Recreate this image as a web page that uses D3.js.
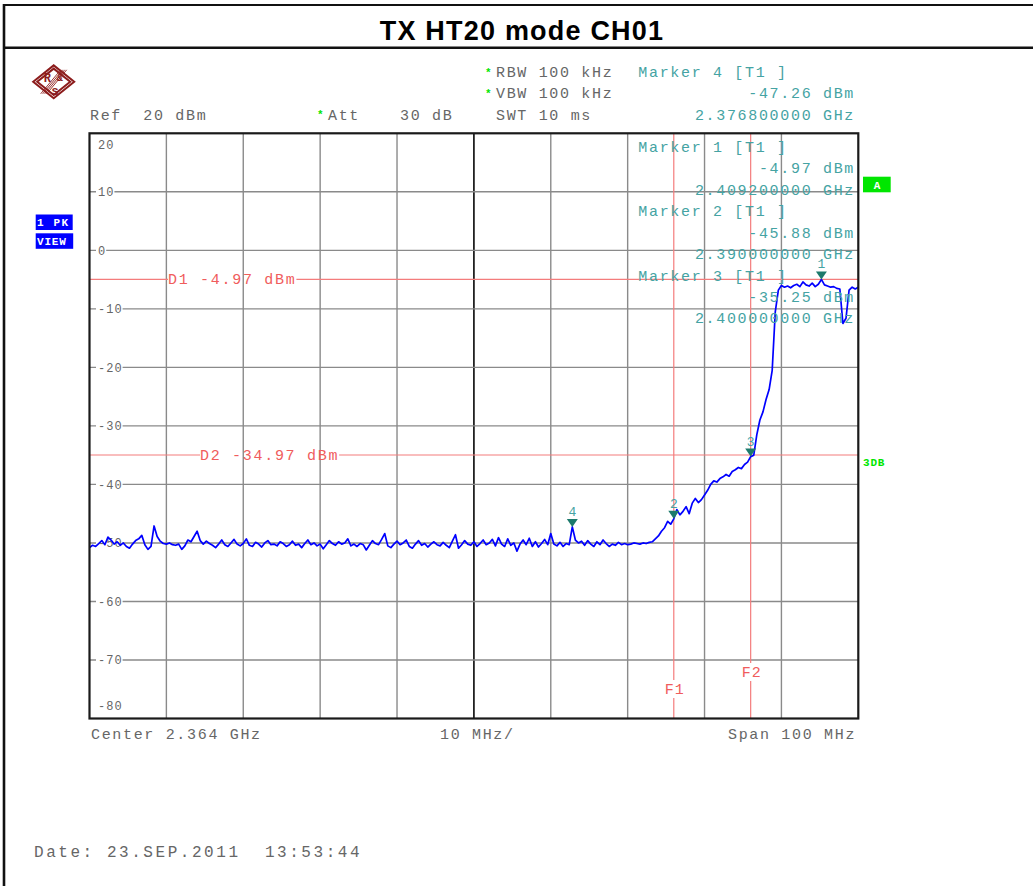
<!DOCTYPE html>
<html>
<head>
<meta charset="utf-8">
<script src="https://cdn.jsdelivr.net/npm/d3@7"></script>
<style>
  body { margin: 0; background: #fff; }
  svg text { font-family: "Liberation Mono", "DejaVu Sans Mono", monospace; white-space: pre; }
</style>
</head>
<body>
<svg id="chart" width="1033" height="886"></svg>
<script>
const TITLE = "TX HT20 mode CH01";

// sweep: 2314 MHz .. 2414 MHz, one point each 0.4 MHz
const sweepStartMHz = 2314;
const sweepStepMHz = 0.4;
const traceDbm = [
  -50.8, -50.4, -50.6, -50.1, -49.6, -50.3, -49.0, -49.5, -50.2, -49.8,
  -50.4, -50.0, -50.6, -50.9, -50.2, -49.6, -49.3, -48.7, -50.3, -51.1,
  -50.6, -47.1, -48.9, -49.7, -50.1, -50.2, -50.0, -50.3, -50.4, -50.2,
  -51.1, -50.5, -49.5, -49.8, -48.9, -48.0, -49.6, -50.2, -49.7, -50.1,
  -50.4, -50.8, -50.2, -49.5, -50.3, -50.6, -50.0, -49.4, -50.2, -50.5,
  -50.1, -49.3, -50.4, -50.6, -49.9, -50.2, -50.7, -50.0, -49.6, -50.3,
  -50.2, -50.5, -49.8, -50.1, -50.6, -50.3, -49.7, -50.4, -50.2, -50.8,
  -50.1, -49.5, -50.3, -50.0, -50.5, -50.2, -51.0, -50.3, -49.6, -50.1,
  -50.4, -49.8, -50.2, -50.0, -49.3, -50.5, -50.2, -50.6, -50.1, -50.3,
  -51.2, -50.4, -49.6, -50.1, -50.3, -49.4, -48.4, -50.5, -50.8, -50.2,
  -49.7, -50.3, -50.0, -49.5, -50.6, -50.9, -50.2, -49.6, -50.4, -50.1,
  -50.7, -50.2, -49.8, -50.3, -50.5, -49.9, -50.4, -50.8, -49.7, -48.6,
  -50.9, -50.3, -49.6, -50.2, -50.4, -49.8, -50.6, -50.1, -49.5, -50.3,
  -50.0, -49.4, -50.5, -49.1, -50.2, -50.6, -49.3, -50.4, -50.0, -51.4,
  -50.2, -49.5, -50.3, -49.2, -50.6, -49.8, -50.7, -50.1, -49.4, -50.3,
  -48.4, -50.2, -50.5, -49.9, -50.6, -50.1, -50.3, -47.26, -49.5, -50.0,
  -49.7, -50.4, -49.6, -50.2, -50.6, -49.8, -50.3, -49.5, -50.1, -50.6,
  -50.2, -50.4, -49.9, -50.3, -50.1, -50.3, -50.2, -50.0, -50.1, -50.2,
  -50.0, -50.1, -49.9, -49.8, -49.3, -48.8, -48.0, -47.4, -46.3, -46.8,
  -45.88, -44.3, -45.2, -44.6, -43.8, -45.0, -43.2, -42.4, -43.1, -42.6,
  -41.8, -41.0, -40.0, -39.4, -39.6, -39.0, -38.7, -38.3, -38.6, -37.8,
  -37.5, -37.1, -37.3, -36.6, -36.2, -35.25, -35.0, -31.5, -29.0, -27.6,
  -25.5, -23.8, -20.5, -10.5, -6.8, -6.0, -6.3, -6.1, -6.4, -6.0,
  -5.8, -6.2, -5.4, -5.9, -6.1, -5.6, -6.2, -5.8, -4.97, -5.9,
  -6.1, -6.3, -6.2, -6.5, -6.6, -12.5, -11.6, -6.8, -6.3, -6.6,
  -6.3
];

const freqDomainMHz = [2314, 2414];
const levelDomainDbm = [-80, 20];
const yTickValues = [20, 10, 0, -10, -20, -30, -40, -50, -60, -70, -80];
const xDivisionsMHz = [2324, 2334, 2344, 2354, 2364, 2374, 2384, 2394, 2404];

const markerIds = [1, 2, 3, 4];
const markerMHz = [2409.2, 2390, 2400, 2376.8];
const markerDbm = [-4.97, -45.88, -35.25, -47.26];

const displayLineNames = ["D1", "D2"];
const displayLineDbm = [-4.97, -34.97];
const freqLineNames = ["F1", "F2"];
const freqLineMHz = [2390, 2400];

const COLORS = {
    frame: '#111',
    grid: '#8a8a8a',
    gridCenter: '#222',
    gray: '#666',
    teal: '#45a3a3',
    markerFill: '#1d7a6c',
    red: '#f05c5c',
    redLine: '#f47c7c',
    trace: '#0000ff',
    green: '#00e600',
    blue: '#0000ff',
    logo: '#8c1c1c'
};

const svg = d3.select('#chart');
svg.append('rect').attr('width', 1033).attr('height', 886).attr('fill', '#fff');

// page frame + title
svg.append('line').attr('x1', 3).attr('x2', 1033).attr('y1', 5).attr('y2', 5)
    .attr('stroke', COLORS.frame).attr('stroke-width', 2.2);
svg.append('line').attr('x1', 3).attr('x2', 1033).attr('y1', 47.8).attr('y2', 47.8)
    .attr('stroke', COLORS.frame).attr('stroke-width', 2.4);
svg.append('line').attr('x1', 4).attr('x2', 4).attr('y1', 4).attr('y2', 886)
    .attr('stroke', COLORS.frame).attr('stroke-width', 2.6);
svg.append('text')
    .attr('x', 522).attr('y', 39.5)
    .attr('text-anchor', 'middle')
    .style('font-family', '"Liberation Sans", Arial, sans-serif')
    .style('font-weight', 'bold')
    .style('font-size', '27px')
    .style('letter-spacing', '1.2px')
    .attr('fill', '#000')
    .text(TITLE);

// R&S logo
const logo = svg.append('g').attr('transform', 'translate(53.7,81.8)');
[20.5, 16.5].forEach((r) => {
    logo.append('path')
        .attr('d', `M${-r},0 L0,${-r * 0.8} L${r},0 L0,${r * 0.8} Z`)
        .attr('fill', 'none').attr('stroke', COLORS.logo).attr('stroke-width', 2);
});
[-3, -1, 1, 3].forEach((o) => {
    logo.append('line')
        .attr('x1', 10 + o).attr('y1', -12).attr('x2', -10 + o).attr('y2', 12)
        .attr('stroke', COLORS.logo).attr('stroke-width', 0.9);
});
logo.append('text').attr('x', -10).attr('y', 0).text('R')
    .style('font-size', '12px').style('font-weight', 'bold').attr('fill', COLORS.logo);
logo.append('text').attr('x', 3).attr('y', -1).text('&')
    .style('font-size', '10px').style('font-weight', 'bold').attr('fill', COLORS.logo);
logo.append('text').attr('x', -2).attr('y', 13).text('S')
    .style('font-size', '11px').style('font-weight', 'bold').attr('fill', COLORS.logo);

// generic monospaced text helper
function monoText (x, y, str, color, opts) {
    opts = opts || {};
    return svg.append('text')
        .attr('x', x).attr('y', y)
        .attr('text-anchor', opts.anchor || 'start')
        .style('font-size', (opts.size || 15) + 'px')
        .style('letter-spacing', (opts.spacing !== undefined ? opts.spacing : 1.67) + 'px')
        .style('font-weight', opts.weight || 'normal')
        .attr('fill', color)
        .text(str);
}
function greenStar (x, y) {
    monoText(x, y, '*', COLORS.green, { size: 11, spacing: 0, weight: 'bold' });
}

// header settings
greenStar(485, 76);
monoText(496, 77, 'RBW 100 kHz', COLORS.gray);
greenStar(485, 97);
monoText(496, 98.3, 'VBW 100 kHz', COLORS.gray);
monoText(496, 119.7, 'SWT 10 ms', COLORS.gray);
monoText(90, 119.7, 'Ref  20 dBm', COLORS.gray);
greenStar(317, 118);
monoText(328, 119.7, 'Att', COLORS.gray);
monoText(400, 119.7, '30 dB', COLORS.gray);

// scales
const x = d3.scaleLinear().domain(freqDomainMHz).range([89.5, 858.3]);
const y = d3.scaleLinear().domain(levelDomainDbm).range([718.5, 133.3]);
const plotL = x.range()[0], plotR = x.range()[1];
const plotT = y.range()[1], plotB = y.range()[0];

// marker info blocks (marker 4 in header, 1..3 inside the plot)
const infoRows = [
    { id: 4, base: 77 },
    { id: 1, base: 152 },
    { id: 2, base: 216.3 },
    { id: 3, base: 280.5 }
];
const plot = svg.append('g');

// grid
plot.selectAll('.vgrid').data(xDivisionsMHz).enter().append('line')
    .attr('class', 'vgrid')
    .attr('x1', (d) => x(d)).attr('x2', (d) => x(d))
    .attr('y1', plotT).attr('y2', plotB)
    .attr('stroke', (d) => d === 2364 ? COLORS.gridCenter : COLORS.grid)
    .attr('stroke-width', (d) => d === 2364 ? 1.8 : 1.4);
plot.selectAll('.hgrid').data(yTickValues.slice(1, -1)).enter().append('line')
    .attr('class', 'hgrid')
    .attr('x1', plotL).attr('x2', plotR)
    .attr('y1', (d) => y(d)).attr('y2', (d) => y(d))
    .attr('stroke', COLORS.grid).attr('stroke-width', 1.4);

// y labels inside the plot, masking the grid line
yTickValues.forEach((v) => {
    let cy = y(v);
    if (v === levelDomainDbm[1]) cy = plotT + 11;
    if (v === levelDomainDbm[0]) cy = plotB - 13;
    const str = String(v);
    const w = str.length * 8.2 + 2;
    plot.append('rect').attr('x', 96).attr('y', cy - 6).attr('width', w).attr('height', 12)
        .attr('fill', '#fff');
    plot.append('text').attr('x', 98).attr('y', cy + 4.2)
        .style('font-size', '12px').style('letter-spacing', '1px')
        .attr('fill', COLORS.gray).text(str);
});

// display lines D1, D2 (broken where the label sits)
const dLabelX = [168, 200];
displayLineDbm.forEach((v, i) => {
    const label = displayLineNames[i] + ' ' + v.toFixed(2) + ' dBm';
    const x0 = dLabelX[i];
    const x1 = x0 + label.length * 10.7;
    [[plotL, x0], [x1, plotR]].forEach((seg) => {
        plot.append('line').attr('x1', seg[0]).attr('x2', seg[1])
            .attr('y1', y(v)).attr('y2', y(v))
            .attr('stroke', COLORS.redLine).attr('stroke-width', 1.2);
    });
    plot.append('text').attr('x', x0).attr('y', y(v) + 5)
        .style('font-size', '15px').style('letter-spacing', '1.7px')
        .attr('fill', COLORS.red).text(label);
});

// frequency lines F1, F2
const fLabelY = [689, 672];
freqLineMHz.forEach((f, i) => {
    const cy = fLabelY[i];
    [[plotT, cy - 9], [cy + 9, plotB]].forEach((seg) => {
        plot.append('line').attr('x1', x(f)).attr('x2', x(f))
            .attr('y1', seg[0]).attr('y2', seg[1])
            .attr('stroke', COLORS.redLine).attr('stroke-width', 1.2);
    });
    plot.append('text').attr('x', x(f) + 1).attr('y', cy + 5)
        .attr('text-anchor', 'middle')
        .style('font-size', '15px').style('letter-spacing', '1px')
        .attr('fill', COLORS.red).text(freqLineNames[i]);
});

// marker readouts
infoRows.forEach((row) => {
    const k = markerIds.indexOf(row.id);
    monoText(638.3, row.base, 'Marker ' + row.id + ' [T1 ]', COLORS.teal);
    monoText(855, row.base + 21.35, markerDbm[k].toFixed(2) + ' dBm', COLORS.teal, { anchor: 'end' });
    monoText(855, row.base + 42.7, (markerMHz[k] / 1000).toFixed(9) + ' GHz', COLORS.teal, { anchor: 'end' });
});

// trace
const tracePts = traceDbm.map((v, i) => [sweepStartMHz + i * sweepStepMHz, v]);
const line = d3.line().x((d) => x(d[0])).y((d) => y(d[1]));
plot.append('path')
    .datum(tracePts)
    .attr('d', line)
    .attr('fill', 'none')
    .attr('stroke', COLORS.trace)
    .attr('stroke-width', 1.7)
    .attr('stroke-linejoin', 'round');

// marker symbols
const mg = plot.selectAll('.marker').data(markerIds).enter().append('g')
    .attr('class', 'marker')
    .attr('transform', (d, i) => 'translate(' + x(markerMHz[i]) + ',' + y(markerDbm[i]) + ')');
mg.append('path').attr('d', 'M-5.5,-8 L5.5,-8 L0,0 Z').attr('fill', COLORS.markerFill);
mg.append('text').attr('x', 0).attr('y', -11)
    .attr('text-anchor', 'middle')
    .style('font-size', '13px')
    .attr('fill', COLORS.teal)
    .text((d) => d);

// plot border
svg.append('rect').attr('x', plotL).attr('y', plotT)
    .attr('width', plotR - plotL).attr('height', plotB - plotT)
    .attr('fill', 'none').attr('stroke', '#1a1a1a').attr('stroke-width', 2.2);

// side flags
svg.append('rect').attr('x', 35.7).attr('y', 214.5).attr('width', 37).attr('height', 15.5).attr('fill', COLORS.blue);
svg.append('rect').attr('x', 35.7).attr('y', 233.3).attr('width', 37.5).attr('height', 15.5).attr('fill', COLORS.blue);
monoText(37, 226, '1 PK', '#fff', { size: 11, spacing: 1.6, weight: 'bold' });
monoText(37, 245, 'VIEW', '#fff', { size: 11, spacing: 0.8, weight: 'bold' });
svg.append('rect').attr('x', 863).attr('y', 176.7).attr('width', 27.7).attr('height', 15.6).attr('fill', COLORS.green);
monoText(877, 188.5, 'A', '#fff', { size: 11, spacing: 0, weight: 'bold', anchor: 'middle' });
monoText(863, 466, '3DB', COLORS.green, { size: 11, spacing: 0.8, weight: 'bold' });

// footer
monoText(91, 739, 'Center 2.364 GHz', COLORS.gray);
monoText(440, 739, '10 MHz/', COLORS.gray);
monoText(728, 739, 'Span 100 MHz', COLORS.gray);
monoText(34, 857, 'Date: 23.SEP.2011  13:53:44', COLORS.gray, { size: 16, spacing: 2.55 });
</script>
</body>
</html>
